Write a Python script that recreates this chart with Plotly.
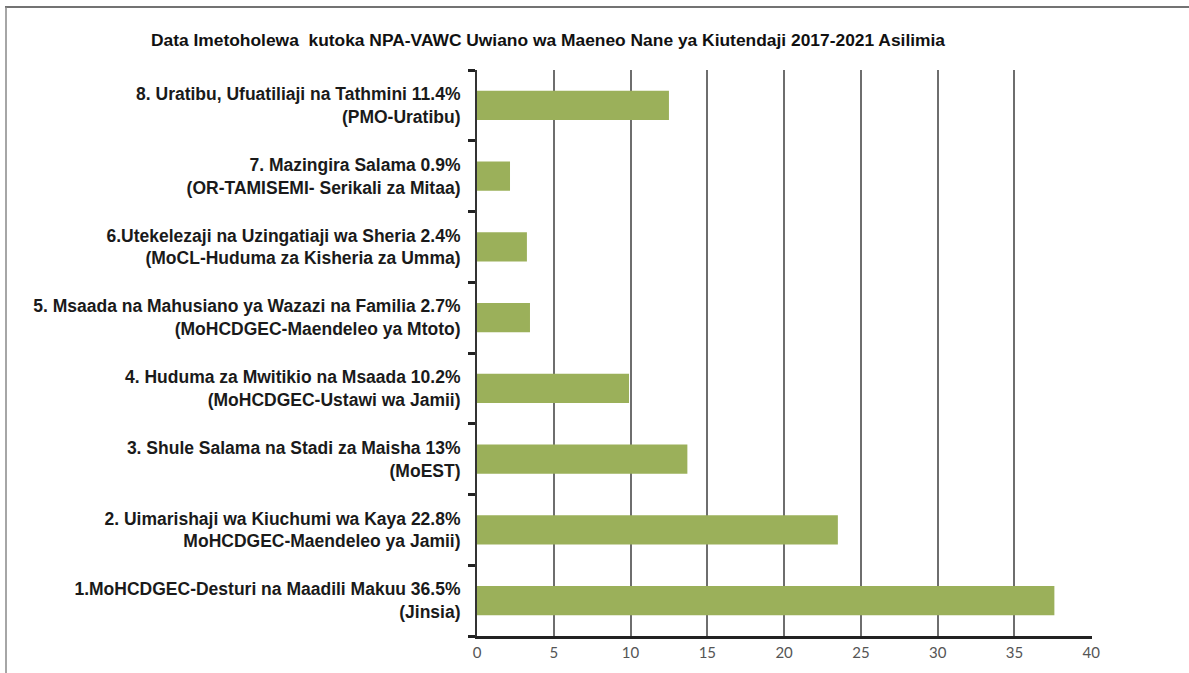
import plotly.graph_objects as go

categories = [
    "1.MoHCDGEC-Desturi na Maadili Makuu 36.5%<br>(Jinsia)",
    "2. Uimarishaji wa Kiuchumi wa Kaya 22.8%<br>MoHCDGEC-Maendeleo ya Jamii)",
    "3. Shule Salama na Stadi za Maisha 13%<br>(MoEST)",
    "4. Huduma za Mwitikio na Msaada 10.2%<br>(MoHCDGEC-Ustawi wa Jamii)",
    "5. Msaada na Mahusiano ya Wazazi na Familia 2.7%<br>(MoHCDGEC-Maendeleo ya Mtoto)",
    "6.Utekelezaji na Uzingatiaji wa Sheria 2.4%<br>(MoCL-Huduma za Kisheria za Umma)",
    "7. Mazingira Salama 0.9%<br>(OR-TAMISEMI- Serikali za Mitaa)",
    "8. Uratibu, Ufuatiliaji na Tathmini 11.4%<br>(PMO-Uratibu)",
]
values = [37.6, 23.5, 13.7, 9.9, 3.45, 3.25, 2.15, 12.5]
x_ticks = [0, 5, 10, 15, 20, 25, 30, 35, 40]
title_text = "Data Imetoholewa  kutoka NPA-VAWC Uwiano wa Maeneo Nane ya Kiutendaji 2017-2021 Asilimia"

W, H = 1189, 673
L, R, T, B = 477, 97, 70, 37
pw, ph = W - L - R, H - T - B

def px(xp):
    return (xp - L) / pw

def py(yp):
    return (H - B - yp) / ph

fig = go.Figure(go.Bar(
    x=values, y=categories, orientation="h",
    marker=dict(color="#9bb05a", line=dict(width=0)),
    width=0.41,
))

fig.update_layout(
    width=W, height=H,
    margin=dict(l=L, r=R, t=T, b=B),
    paper_bgcolor="white", plot_bgcolor="white",
    showlegend=False,
    title=dict(text=title_text, x=(548) / W, xanchor="center", y=1 - 40 / H, yanchor="middle",
               font=dict(family="Liberation Sans, Arial", size=17.4, color="#111", weight="bold")),
    xaxis=dict(range=[0, 40.05], tickvals=x_ticks, showgrid=True, gridcolor="#6e6e6e", gridwidth=1.5,
               showline=True, linecolor="#222", linewidth=3, ticks="", zeroline=False,
               tickfont=dict(family="Lato, Carlito", size=15, color="#555"), ticklabelstandoff=1),
    yaxis=dict(type="category", categoryorder="array", categoryarray=categories,
               showline=True, linecolor="#333", linewidth=2,
               ticks="outside", tickson="boundaries", ticklen=7, tickwidth=3, tickcolor="#222",
               showgrid=False, ticklabelstandoff=11,
               tickfont=dict(family="Liberation Sans, Arial", size=17.5, color="#1a1a1a", weight="bold")),
    shapes=[
        dict(type="line", xref="paper", yref="paper", x0=px(5), x1=px(1189), y0=py(7), y1=py(7),
             line=dict(color="#444", width=1.5)),
        dict(type="line", xref="paper", yref="paper", x0=px(6), x1=px(6), y0=py(7), y1=py(673),
             line=dict(color="#888", width=1.5)),
    ],
)

fig.write_html("out.html")
